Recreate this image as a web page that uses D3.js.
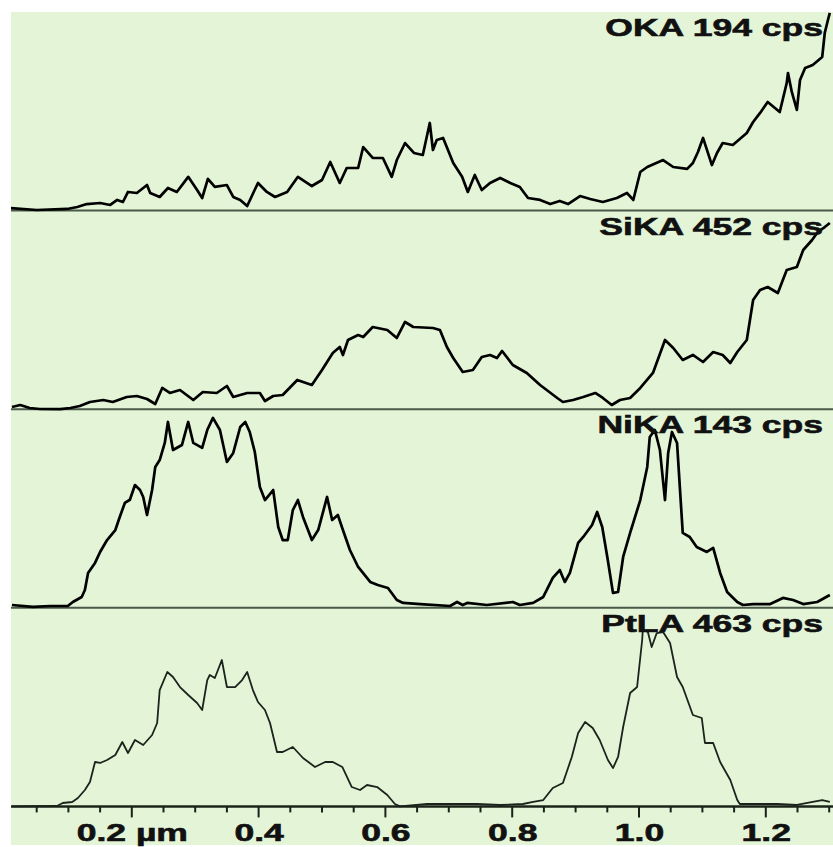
<!DOCTYPE html>
<html>
<head>
<meta charset="utf-8">
<script src="https://cdn.jsdelivr.net/npm/d3@7"></script>
<style>
  html, body { margin: 0; padding: 0; background: #ffffff; }
  svg { display: block; }
</style>
</head>
<body>
<svg id="chart" width="833" height="847"></svg>
<script>
// ---- data (position in µm, intensity in cps) ----
const elements = ["OKA", "SiKA", "NiKA", "PtLA"];
const fullScale = [194, 452, 143, 463];

const okaData = [
  [0.009,2.5],[0.050,0.6],[0.098,1.6],[0.114,3.5],[0.129,6.4],[0.150,7.4],[0.166,5.5],[0.177,10.4],
  [0.186,8.4],[0.194,18.2],[0.208,17.2],[0.224,25.0],[0.229,17.2],[0.244,13.3],[0.257,22.1],[0.271,18.2],
  [0.289,33.0],[0.303,20.1],[0.311,12.3],[0.320,31.0],[0.331,23.1],[0.350,25.0],[0.360,13.3],[0.371,10.4],
  [0.382,4.5],[0.399,27.0],[0.413,18.2],[0.426,13.3],[0.445,18.2],[0.462,33.0],[0.484,24.0],[0.500,29.9],
  [0.513,47.5],[0.528,27.0],[0.539,41.6],[0.557,41.6],[0.565,62.1],[0.580,51.4],[0.596,51.4],[0.610,33.0],
  [0.618,49.4],[0.631,66.0],[0.645,56.3],[0.659,54.3],[0.670,85.6],[0.675,59.2],[0.681,69.0],[0.691,71.0],
  [0.707,46.5],[0.721,33.0],[0.730,18.2],[0.741,34.8],[0.752,20.1],[0.765,27.0],[0.781,31.9],[0.797,27.0],
  [0.812,23.1],[0.825,12.3],[0.844,10.4],[0.860,6.4],[0.875,9.4],[0.888,6.4],[0.907,14.2],[0.923,11.3],
  [0.943,8.4],[0.965,12.3],[0.981,17.2],[0.991,10.4],[1.002,37.7],[1.013,42.6],[1.038,49.4],[1.054,42.6],
  [1.076,40.7],[1.085,46.5],[1.093,57.3],[1.101,71.0],[1.115,44.5],[1.123,56.3],[1.132,66.0],[1.148,64.1],
  [1.159,69.9],[1.170,75.8],[1.180,86.5],[1.191,95.4],[1.203,106.1],[1.222,96.3],[1.233,124.6],[1.235,134.4],
  [1.241,115.9],[1.249,98.3],[1.254,127.6],[1.262,139.3],[1.274,142.3],[1.289,150.1],[1.293,173.6],[1.298,186.2],
  [1.301,193.1]
];

const sikaData = [
  [0.011,5.0],[0.024,9.6],[0.039,2.7],[0.055,0.5],[0.087,0],[0.103,2.7],[0.118,7.3],[0.134,16.4],
  [0.155,20.9],[0.170,16.4],[0.192,27.8],[0.208,30.0],[0.224,23.2],[0.237,11.8],[0.248,48.3],[0.260,36.9],
  [0.276,43.7],[0.297,20.9],[0.312,39.1],[0.334,36.9],[0.350,52.8],[0.360,27.8],[0.382,36.9],[0.402,36.9],
  [0.410,18.7],[0.423,30.0],[0.438,32.3],[0.461,66.5],[0.484,55.1],[0.500,89.2],[0.517,127.9],[0.528,141.6],
  [0.533,123.4],[0.541,157.5],[0.557,168.9],[0.565,164.3],[0.580,187.1],[0.603,180.3],[0.618,162.1],[0.631,198.5],
  [0.644,187.1],[0.675,184.8],[0.686,180.3],[0.697,141.6],[0.707,116.5],[0.722,84.7],[0.738,89.2],[0.752,118.8],
  [0.765,123.4],[0.776,116.5],[0.784,132.5],[0.801,100.6],[0.823,82.4],[0.844,55.1],[0.871,25.5],[0.880,16.4],
  [0.896,20.9],[0.912,27.8],[0.931,36.9],[0.943,25.5],[0.957,9.6],[0.970,20.9],[0.986,25.5],[1.002,48.3],
  [1.022,82.4],[1.041,157.5],[1.054,139.3],[1.069,112.0],[1.085,123.4],[1.101,107.4],[1.117,130.2],[1.132,123.4],
  [1.144,105.2],[1.155,130.2],[1.170,157.5],[1.180,248.5],[1.191,271.2],[1.203,278.1],[1.219,264.5],[1.233,316.8],
  [1.249,323.6],[1.259,362.3],[1.273,385.1],[1.282,403.3],[1.293,414.6],[1.301,423.8]
];

const nikaData = [
  [0.011,2.0],[0.044,0.6],[0.071,1.3],[0.099,1.3],[0.107,4.2],[0.121,7.8],[0.126,12.8],[0.131,25.1],
  [0.142,32.3],[0.150,40.2],[0.161,48.8],[0.174,56.0],[0.181,65.4],[0.189,75.5],[0.197,77.8],[0.205,88.4],
  [0.213,84.8],[0.218,79.8],[0.224,66.8],[0.232,84.8],[0.237,101.4],[0.244,106.4],[0.252,118.7],[0.257,133.8],
  [0.265,113.6],[0.279,117.2],[0.289,133.8],[0.297,118.7],[0.311,115.1],[0.319,128.0],[0.328,136.7],[0.339,128.0],
  [0.350,105.0],[0.360,111.5],[0.371,130.2],[0.379,133.8],[0.386,126.6],[0.394,112.2],[0.402,87.0],[0.410,77.6],
  [0.423,84.8],[0.431,58.2],[0.438,48.8],[0.446,48.8],[0.454,70.4],[0.462,77.6],[0.470,65.4],[0.484,48.8],
  [0.494,56.0],[0.508,79.8],[0.516,63.2],[0.525,66.8],[0.533,56.0],[0.544,41.6],[0.557,29.4],[0.576,18.6],
  [0.588,16.4],[0.604,14.3],[0.618,5.6],[0.628,3.5],[0.655,2.7],[0.702,1.3],[0.713,4.2],[0.722,2.0],
  [0.729,3.5],[0.760,2.0],[0.801,4.2],[0.812,2.0],[0.833,3.5],[0.849,7.8],[0.864,21.5],[0.875,27.2],
  [0.883,18.6],[0.891,25.1],[0.904,46.7],[0.912,51.0],[0.926,59.6],[0.934,69.0],[0.942,58.2],[0.950,36.6],
  [0.959,10.7],[0.967,11.4],[0.975,36.6],[0.986,53.9],[1.002,77.6],[1.013,101.4],[1.017,123.0],[1.025,128.0],
  [1.033,113.6],[1.041,77.6],[1.046,111.5],[1.052,126.6],[1.060,118.7],[1.069,53.9],[1.080,51.0],[1.091,43.8],
  [1.107,40.2],[1.117,43.1],[1.128,25.1],[1.139,11.4],[1.155,4.2],[1.164,2.0],[1.180,2.7],[1.207,2.7],
  [1.227,7.1],[1.243,5.6],[1.259,2.7],[1.281,4.2],[1.301,9.2]
];

const ptlaData = [
  [0.011,0],[0.082,0.9],[0.091,7.9],[0.106,10.3],[0.115,19.6],[0.126,38.2],[0.134,56.9],[0.142,103.5],
  [0.150,101.2],[0.161,108.2],[0.174,119.8],[0.185,150.1],[0.194,124.5],[0.205,154.8],[0.218,143.1],[0.232,166.4],
  [0.240,194.4],[0.244,271.3],[0.256,313.3],[0.265,301.6],[0.276,278.3],[0.289,259.7],[0.303,241.0],[0.311,224.7],
  [0.319,294.6],[0.323,306.3],[0.331,299.3],[0.342,341.3],[0.350,278.3],[0.363,278.3],[0.374,294.6],[0.382,313.3],
  [0.391,271.3],[0.399,243.4],[0.410,224.7],[0.418,194.4],[0.429,126.8],[0.438,126.8],[0.454,138.5],[0.470,112.8],
  [0.489,91.9],[0.505,103.5],[0.517,103.5],[0.532,91.9],[0.547,45.2],[0.560,38.2],[0.571,49.9],[0.587,45.2],
  [0.603,26.6],[0.615,5.6],[0.623,0],[0.666,5.6],[0.702,5.6],[0.744,5.6],[0.781,3.3],[0.817,5.6],
  [0.833,10.3],[0.849,14.9],[0.864,42.9],[0.880,54.5],[0.894,115.2],[0.904,171.1],[0.915,196.8],[0.927,182.8],
  [0.938,154.8],[0.951,108.2],[0.959,89.5],[0.967,115.2],[0.975,185.1],[0.986,264.3],[0.997,278.3],[1.005,387.9],
  [1.006,411.2],[1.014,406.5],[1.020,371.6],[1.028,404.2],[1.038,406.5],[1.049,380.9],[1.060,301.6],[1.069,278.3],
  [1.085,213.1],[1.099,206.1],[1.104,147.8],[1.117,147.8],[1.128,103.5],[1.144,61.5],[1.155,14.9],[1.159,5.6],
  [1.180,5.6],[1.218,5.6],[1.249,3.3],[1.274,10.3],[1.289,14.9],[1.301,10.3]
];

const seriesData = [okaData, sikaData, nikaData, ptlaData];
const minorTicks = d3.range(1, 27).map(k => k * 0.05);
const majorTicks = [0.2, 0.4, 0.6, 0.8, 1.0, 1.2];
const majorTickLabels = ["0.2 \u00b5m", "0.4", "0.6", "0.8", "1.0", "1.2"];

// ---- layout ----
const svg = d3.select("#chart");
const plotLeft = 11, plotTop = 12, plotRight = 833, plotBottom = 845;
const panelTop0 = 12, panelH = 198.6;
const bg = "#e3f4d7";
const stretch = 1.48;
const ink = "#1a2218";

svg.append("rect").attr("x", plotLeft).attr("y", plotTop)
  .attr("width", plotRight - plotLeft).attr("height", plotBottom - plotTop)
  .attr("fill", bg);

svg.append("defs").append("clipPath").attr("id", "plotClip")
  .append("rect").attr("x", plotLeft).attr("y", plotTop)
  .attr("width", plotRight - plotLeft).attr("height", plotBottom - plotTop);

const x = d3.scaleLinear().domain([0, 1.3]).range([5, 829.2]);

seriesData.forEach((data, i) => {
  const top = panelTop0 + i * panelH;
  const base = top + panelH;
  const y = d3.scaleLinear().domain([0, fullScale[i]]).range([base, top]);
  const g = svg.append("g");

  // baseline
  g.append("line")
    .attr("x1", plotLeft).attr("x2", plotRight)
    .attr("y1", y(0)).attr("y2", y(0))
    .attr("stroke", i === 3 ? "#243024" : "#4a5a48")
    .attr("stroke-width", 2);

  const line = d3.line().x(d => x(d[0])).y(d => y(d[1])).curve(d3.curveLinear);
  g.append("path")
    .datum(data)
    .attr("clip-path", "url(#plotClip)")
    .attr("d", line)
    .attr("fill", "none")
    .attr("stroke", i === 3 ? "#1c221c" : "#000000")
    .attr("stroke-width", i === 3 ? 1.8 : 2.7)
    .attr("stroke-linejoin", "round");

  // label
  g.append("text")
    .attr("transform", `translate(823,${top + 24}) scale(${stretch},1)`)
    .attr("text-anchor", "end")
    .attr("font-family", "'Liberation Sans', Arial, sans-serif")
    .attr("font-weight", "bold")
    .attr("font-size", 24)
    .attr("fill", "#111")
    .attr("stroke", "#111")
    .attr("stroke-width", 0.6)
    .text(`${elements[i]} ${fullScale[i]} cps`);
});

// ---- x axis ----
const axisY = panelTop0 + 4 * panelH;
const isMajor = d => majorTicks.some(m => Math.abs(m - d) < 1e-6);

svg.append("g").selectAll("line.tick")
  .data(minorTicks)
  .join("line")
  .attr("class", "tick")
  .attr("x1", d => x(d)).attr("x2", d => x(d))
  .attr("y1", axisY).attr("y2", d => axisY + (isMajor(d) ? 11 : 6))
  .attr("stroke", ink)
  .attr("stroke-width", 2);

const majorAxis = d3.axisBottom(x).tickValues(majorTicks).tickSize(0)
  .tickFormat((d, i) => majorTickLabels[i]);
const gMajor = svg.append("g").attr("transform", `translate(0,${axisY})`).call(majorAxis);
gMajor.select(".domain").remove();
gMajor.selectAll(".tick line").remove();
gMajor.selectAll(".tick text")
  .attr("y", null).attr("dy", null)
  .attr("transform", `translate(0,35) scale(${stretch},1)`)
  .attr("text-anchor", "middle")
  .attr("font-family", "'Liberation Sans', Arial, sans-serif")
  .attr("font-weight", "bold")
  .attr("font-size", 24)
  .attr("fill", "#111")
  .attr("stroke", "#111")
  .attr("stroke-width", 0.6);

svg.append("line")
  .attr("x1", plotLeft).attr("x2", plotRight)
  .attr("y1", axisY).attr("y2", axisY)
  .attr("stroke", ink).attr("stroke-width", 2);
</script>
</body>
</html>
